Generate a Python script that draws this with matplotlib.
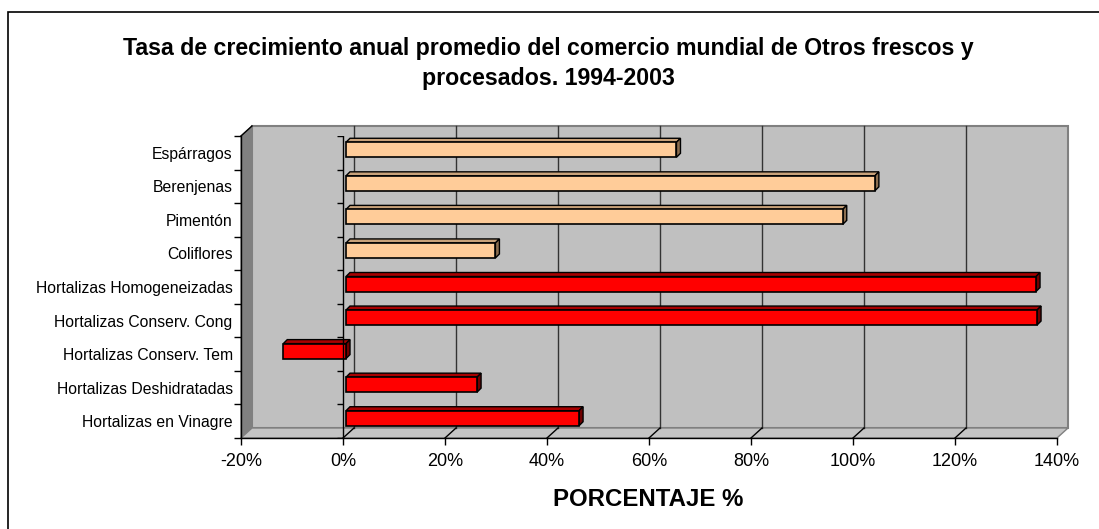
import matplotlib.pyplot as plt
from matplotlib.patches import Rectangle, Polygon
import numpy as np

plt.rcParams['font.family'] = ['Liberation Sans', 'DejaVu Sans']

# data, top to bottom as in the chart
categories = ['Espárragos', 'Berenjenas', 'Pimentón', 'Coliflores',
              'Hortalizas Homogeneizadas', 'Hortalizas Conserv. Cong',
              'Hortalizas Conserv. Tem', 'Hortalizas Deshidratadas',
              'Hortalizas en Vinagre']
values = [64.8, 103.7, 97.4, 29.3, 135.3, 135.5, -12.3, 25.7, 45.7]
groups = ['otros', 'otros', 'otros', 'otros',
          'hort', 'hort', 'hort', 'hort', 'hort']
xticks = [-20, 0, 20, 40, 60, 80, 100, 120, 140]

colors = {'otros': ('#FFCC99', '#C9A27A', '#8C6E50'),
          'hort': ('#FF0000', '#A80000', '#700000')}

W, H = 1099, 529
fig = plt.figure(figsize=(W / 100, H / 100), dpi=100)
fig.patch.set_facecolor('white')

# outer chart border (right / bottom fall outside the image)
fig.add_artist(Rectangle((8 / W, -0.1), 1.2, 1 - 12 / H + 0.1,
                         transform=fig.transFigure, fill=False,
                         ec='black', lw=1.2))

ax_l, ax_b, ax_w, ax_h = 241, 438, 816, 302
ax = fig.add_axes([ax_l / W, 1 - ax_b / H, ax_w / W, ax_h / H])
xmin, xmax = -20, 140
n = len(categories)
ax.set_xlim(xmin, xmax)
ax.set_ylim(-0.5, n - 0.5)
ax.patch.set_visible(False)

ppx = ax_w / (xmax - xmin)   # pixels per percent
ppy = ax_h / n               # pixels per category

# wall depth
dxw, dyw = 11 / ppx, 10 / ppy
y0, y1 = -0.5, n - 0.5

ax.add_patch(Rectangle((xmin + dxw, y0 + dyw), xmax - xmin, n,
                       fc='#C0C0C0', ec='#808080', lw=1.5,
                       clip_on=False, zorder=0))
ax.add_patch(Polygon([(xmin, y0), (xmin + dxw, y0 + dyw),
                      (xmin + dxw, y1 + dyw), (xmin, y1)],
                     fc='#808080', ec='#808080', lw=1,
                     clip_on=False, zorder=0.5))
ax.add_patch(Polygon([(xmin, y0), (xmax, y0), (xmax + dxw, y0 + dyw),
                      (xmin + dxw, y0 + dyw)],
                     fc='#C4C4C4', ec='#808080', lw=1,
                     clip_on=False, zorder=0.5))
ax.plot([xmin, xmin + dxw], [y1, y1 + dyw], color='black', lw=1,
        clip_on=False, zorder=0.6)

for t in xticks[1:-1]:
    ax.plot([t + dxw, t + dxw], [y0 + dyw, y1 + dyw], color='#333333',
            lw=1, clip_on=False, zorder=0.7)
    ax.plot([t, t + dxw], [y0, y0 + dyw], color='black', lw=1,
            clip_on=False, zorder=0.7)

# bars (front face set slightly back from the front plane)
fx, fy = 3 / ppx, 3 / ppy
bx, by = 4 / ppx, 4 / ppy
h = 15 / ppy
ypos = np.arange(n)[::-1]

for yi, v, g in zip(ypos, values, groups):
    front, top, side = colors[g]
    l, r = min(0, v), max(0, v)
    yc = yi + fy
    yt = yc + h / 2
    yb = yc - h / 2
    ax.add_patch(Polygon([(l + fx, yt), (r + fx, yt), (r + fx + bx, yt + by),
                          (l + fx + bx, yt + by)],
                         fc=top, ec='black', lw=1, zorder=2))
    ax.add_patch(Polygon([(r + fx, yb), (r + fx + bx, yb + by),
                          (r + fx + bx, yt + by), (r + fx, yt)],
                         fc=side, ec='black', lw=1, zorder=2))
ax.barh(ypos + fy, values, left=fx, height=h,
        color=[colors[g][0] for g in groups], edgecolor='black',
        linewidth=1.2, zorder=3)

# category axis at 0
ax.plot([0, 0], [y0, y1], color='black', lw=1, zorder=4)
bounds = np.arange(n + 1) - 0.5
ax.plot(np.zeros(len(bounds)), bounds, linestyle='none', marker=0,
        markersize=4, color='black', zorder=4)

for s in ['top', 'right']:
    ax.spines[s].set_visible(False)
ax.spines['left'].set_linewidth(1)
ax.spines['bottom'].set_linewidth(1)
ax.spines['left'].set_zorder(1)

ax.set_xticks(xticks)
ax.set_xticklabels([f'{t}%' for t in xticks], fontsize=13)
ax.tick_params(axis='x', length=5, width=1, pad=6)
ax.set_yticks(ypos)
ax.set_yticklabels(categories, fontsize=11.3)
ax.set_yticks(bounds, minor=True)
ax.tick_params(axis='y', which='major', length=0, pad=6)
ax.tick_params(axis='y', which='minor', length=5, width=1)

fig.text(548 / W, 1 - 48 / H,
         'Tasa de crecimiento anual promedio del comercio mundial de Otros frescos y',
         ha='center', va='center', fontsize=16.7, fontweight='bold')
fig.text(548 / W, 1 - 78 / H, 'procesados. 1994-2003',
         ha='center', va='center', fontsize=16.7, fontweight='bold')
fig.text(648 / W, 1 - 500 / H, 'PORCENTAJE %', ha='center', va='center',
         fontsize=17.3, fontweight='bold')

fig.savefig('out.png', dpi=100)
